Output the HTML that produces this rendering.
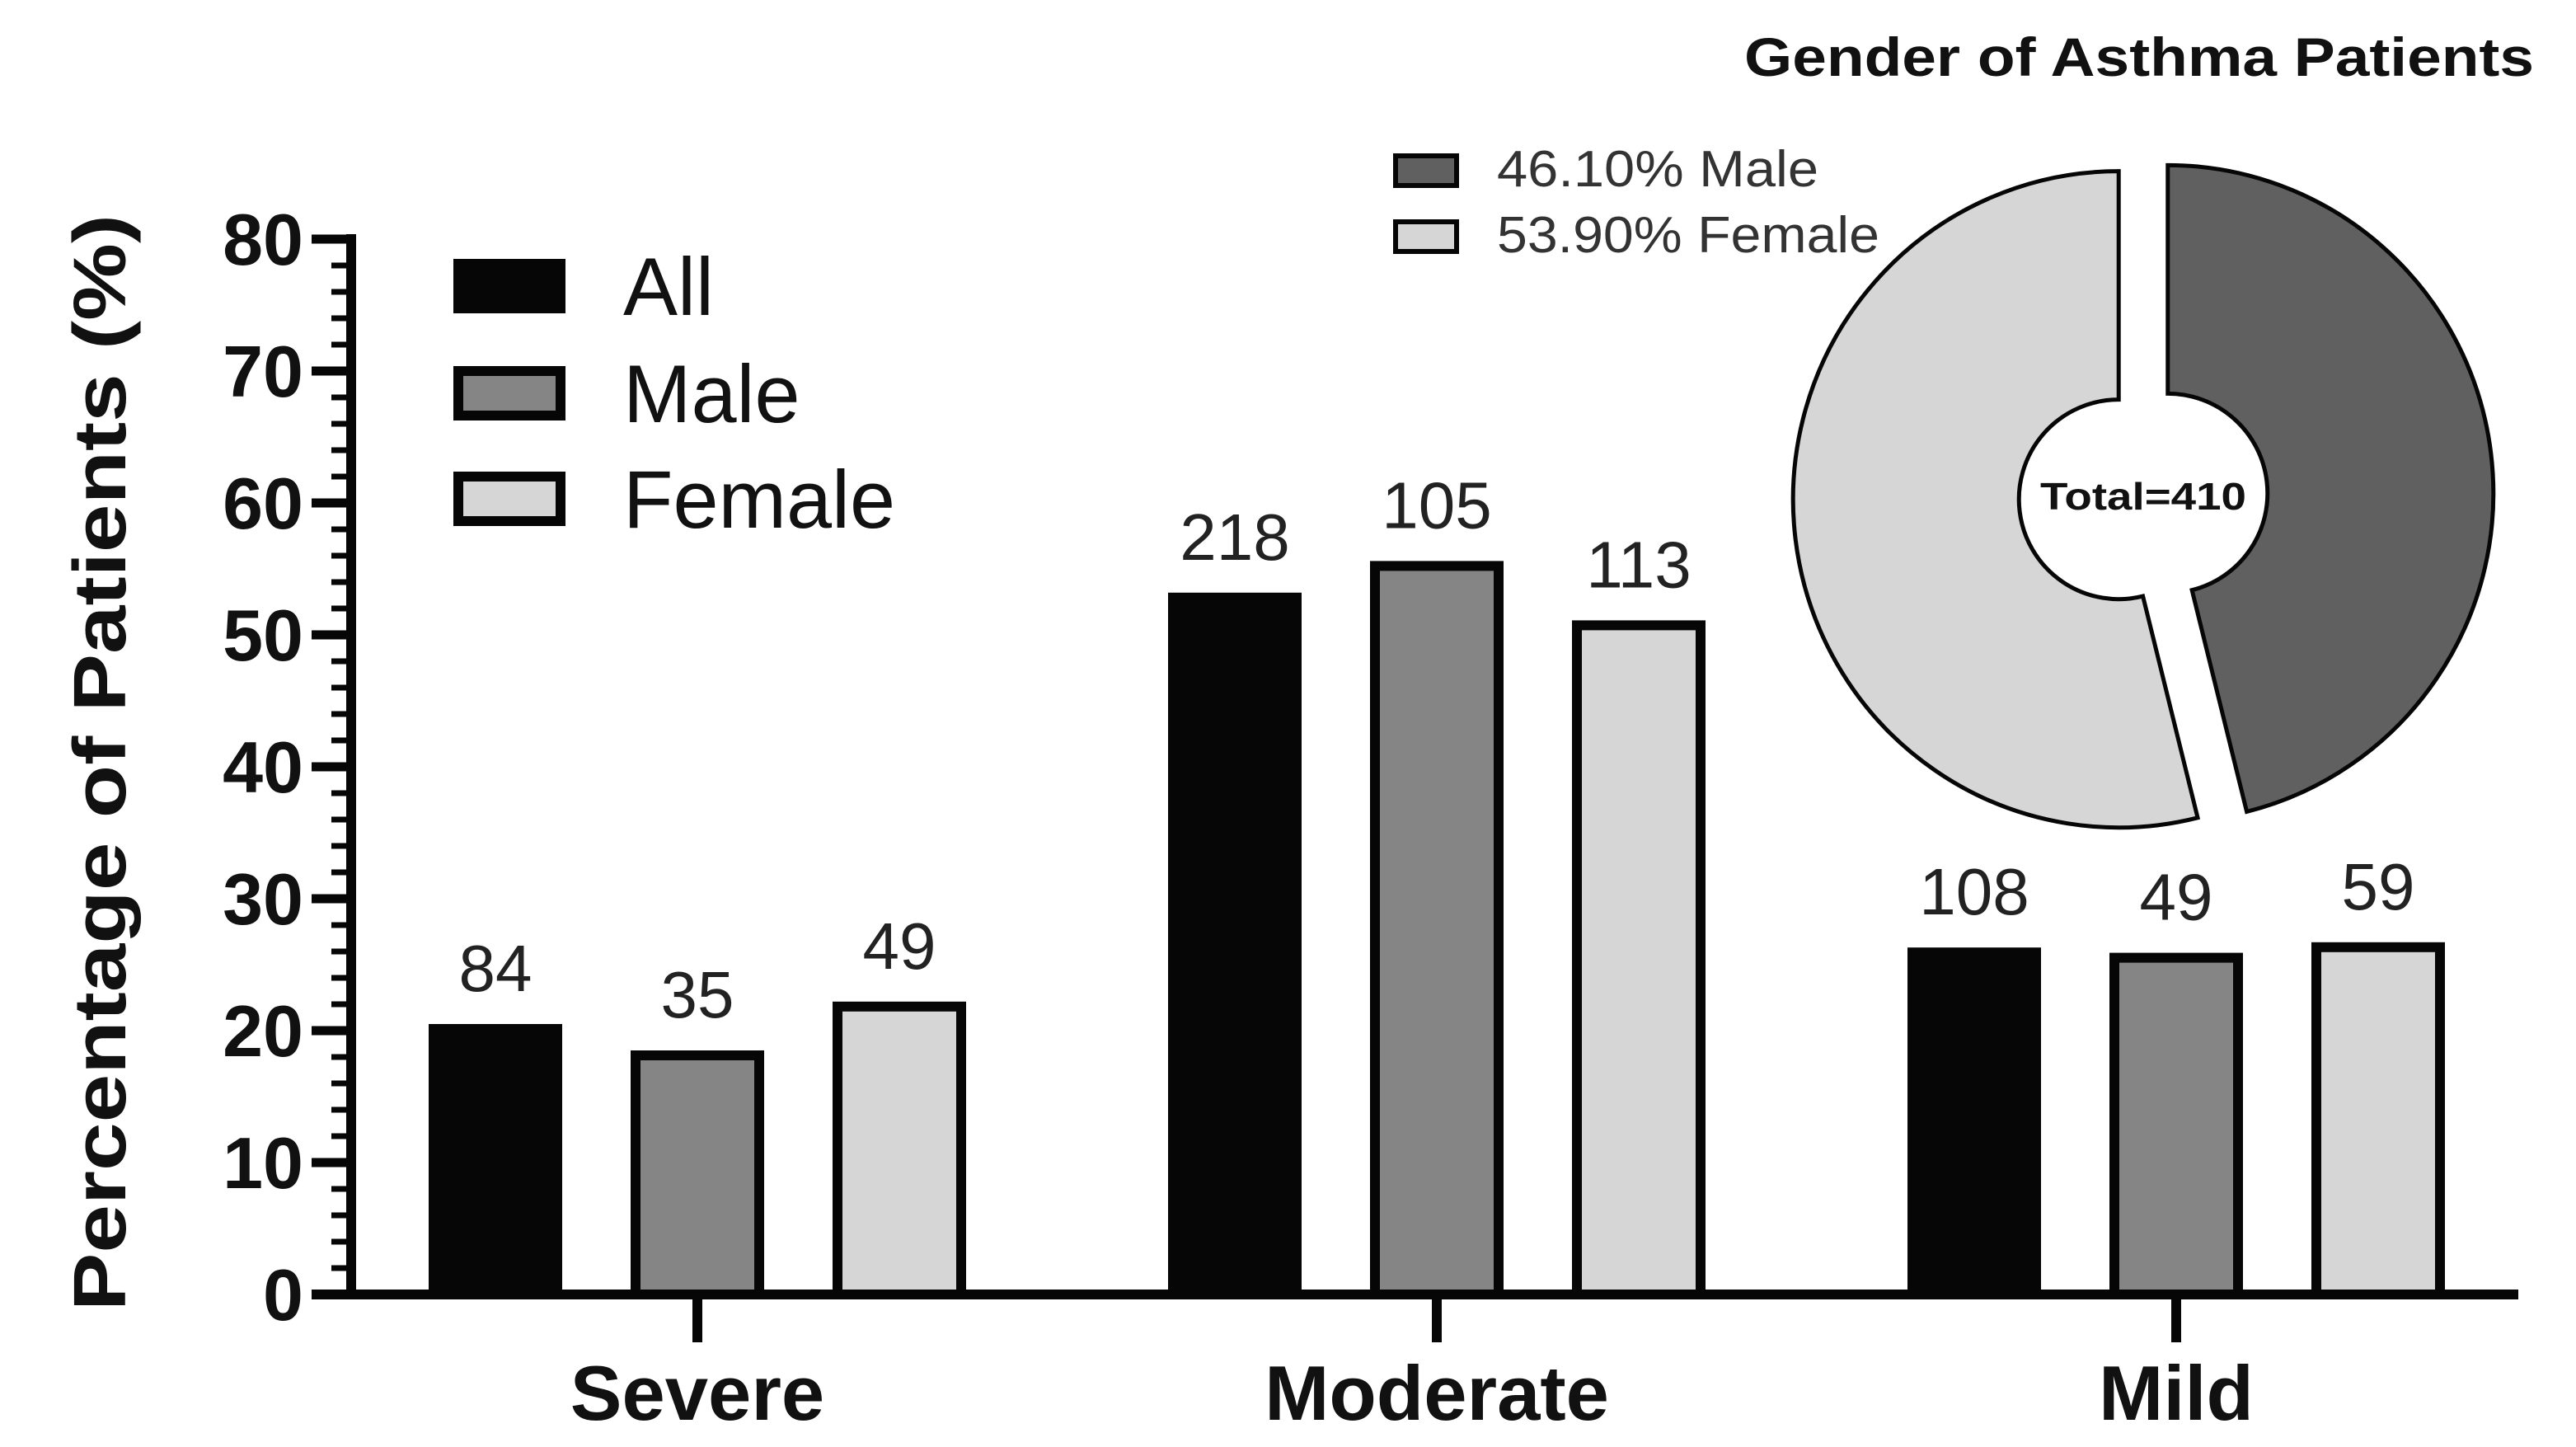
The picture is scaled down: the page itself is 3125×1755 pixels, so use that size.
<!DOCTYPE html>
<html><head><meta charset="utf-8">
<style>
html,body{margin:0;padding:0;background:#fff;}
svg{display:block;}
</style></head>
<body>
<svg id="chart" width="3125" height="1755" viewBox="0 0 3125 1755" xmlns="http://www.w3.org/2000/svg">
<g id="bars"></g>
<g id="axes"></g>
<g id="pie"></g>
</svg>
<script>
const categories = ["Severe", "Moderate", "Mild"];
const seriesNames = ["All", "Male", "Female"];
const allValues = [20.5, 53.2, 26.3];
const maleValues = [18.5, 55.6, 25.9];
const femaleValues = [22.2, 51.1, 26.7];
const allCounts = ["84", "218", "108"];
const maleCounts = ["35", "105", "49"];
const femaleCounts = ["49", "113", "59"];
const yTicks = [0, 10, 20, 30, 40, 50, 60, 70, 80];
const pieLabels = ["Male", "Female"];
const pieValues = [46.1, 53.9];
const pieText = ["46.10%  Male", "53.90%  Female"];
const pieTotal = "Total=410";

const NS = "http://www.w3.org/2000/svg";
function mk(tag, attrs, parent, text) {
  const e = document.createElementNS(NS, tag);
  for (const k in attrs) e.setAttribute(k, attrs[k]);
  if (text !== undefined) e.textContent = text;
  parent.appendChild(e);
  return e;
}
const y0 = 1570, yMax = 80, plotH = 1280;
function yScale(v) { return y0 - v / yMax * plotH; }
const groupCenters0 = 846, groupStep = 897;
function xGroup(i) { return groupCenters0 + i * groupStep; }
const barW = 162, barStep = 245;
function xBar(i, s) { return xGroup(i) + (s - 1) * barStep - barW / 2; }

const fills = ["#060606", "#858585", "#d5d6d5"];
const series = [allValues, maleValues, femaleValues];
const counts = [allCounts, maleCounts, femaleCounts];
const bars = document.getElementById("bars");
const axes = document.getElementById("axes");
const font = "'Liberation Sans', Arial, sans-serif";

// bars
for (let i = 0; i < categories.length; i++) {
  for (let s = 0; s < 3; s++) {
    const v = series[s][i];
    const x = xBar(i, s), yt = yScale(v);
    const r = mk("rect", {x: x + 6, y: yt + 6, width: barW - 12, height: y0 - yt - 6, fill: fills[s], stroke: "#060606", "stroke-width": 12}, bars);
    
    
    const t = mk("text", {x: x + barW / 2, y: yt - 40, "text-anchor": "middle", "font-family": font, "font-size": 80, fill: "#222"}, bars, counts[s][i]);
    
    
  }
}

// y axis
const ya = mk("line", {x1: 426, y1: 284, x2: 426, y2: 1576, stroke: "#060606", "stroke-width": 12}, axes);


for (let v = 0; v <= 80; v += 2) {
  const major = v % 10 === 0;
  const yy = yScale(v);
  const tk = mk("line", {x1: major ? 378 : 402, y1: yy, x2: 426, y2: yy, stroke: "#060606", "stroke-width": major ? 11 : 7}, axes);
  
  
}
yTicks.forEach(v => {
  const t = mk("text", {x: 368, y: yScale(v) + 31, "text-anchor": "end", "font-family": font, "font-weight": "bold", "font-size": 88, fill: "#111"}, axes, String(v));
  
  
});
const yt = mk("text", {x: 0, y: 0, transform: "translate(152,925) rotate(-90)", "text-anchor": "middle", "font-family": font, "font-weight": "bold", "font-size": 90, fill: "#111", "textLength": 1330, "lengthAdjust": "spacingAndGlyphs"}, axes, "Percentage of Patients (%)");



// x axis
const xa = mk("line", {x1: 378, y1: 1570, x2: 3055, y2: 1570, stroke: "#060606", "stroke-width": 12}, axes);


categories.forEach((c, i) => {
  const tk = mk("line", {x1: xGroup(i), y1: 1570, x2: xGroup(i), y2: 1628, stroke: "#060606", "stroke-width": 12}, axes);
  
  
  const t = mk("text", {x: xGroup(i), y: 1722, "text-anchor": "middle", "font-family": font, "font-weight": "bold", "font-size": 94, fill: "#111"}, axes, c);
  
  
});

// legend
const legY = [314, 444, 572];
seriesNames.forEach((n, s) => {
  const r = mk("rect", {x: 556, y: legY[s] + 6, width: 124, height: 54, fill: fills[s], stroke: "#060606", "stroke-width": 12}, axes);
  
  
  const t = mk("text", {x: 756, y: legY[s] + 68, "font-family": font, "font-size": 99, fill: "#111"}, axes, n);
  
  
});

// donut
const pie = document.getElementById("pie");
const cx = 2600, cy = 602, rx = 395, ry = 398, ri = 121;
const pieFills = ["#606060", "#d5d6d5"];
const total = pieValues.reduce((a, b) => a + b, 0);
let acc = 0;
function pt(a, rX, rY) { return [cx + rX * Math.sin(a), cy - rY * Math.cos(a)]; }
pieValues.forEach((v, k) => {
  const a0 = acc / total * 2 * Math.PI, a1 = (acc + v) / total * 2 * Math.PI;
  acc += v;
  const mid = (a0 + a1) / 2, off = 30;
  const dx = off * Math.sin(mid), dy = -off * Math.cos(mid);
  const p0 = pt(a0, rx, ry), p1 = pt(a1, rx, ry), q1 = pt(a1, ri, ri), q0 = pt(a0, ri, ri);
  const large = (a1 - a0) > Math.PI ? 1 : 0;
  const d = `M${p0[0]},${p0[1]} A${rx},${ry} 0 ${large} 1 ${p1[0]},${p1[1]} L${q1[0]},${q1[1]} A${ri},${ri} 0 ${large} 0 ${q0[0]},${q0[1]} Z`;
  const p = mk("path", {d: d, fill: pieFills[k], stroke: "#060606", "stroke-width": 5, transform: `translate(${dx},${dy})`}, pie);
  
  
});
const tt = mk("text", {x: cx, y: cy + 16, "text-anchor": "middle", "font-family": font, "font-weight": "bold", "font-size": 46, fill: "#111", "textLength": 250, "lengthAdjust": "spacingAndGlyphs"}, pie, pieTotal);


const ti = mk("text", {x: 3074, y: 92, "text-anchor": "end", "font-family": font, "font-weight": "bold", "font-size": 66, fill: "#111", "textLength": 958, "lengthAdjust": "spacingAndGlyphs"}, pie, "Gender of Asthma Patients");


const pLegY = [186, 266];
const pLegLen = [390, 464];
pieText.forEach((s, k) => {
  const r = mk("rect", {x: 1693, y: pLegY[k] + 3, width: 74, height: 36, fill: pieFills[k], stroke: "#060606", "stroke-width": 6}, pie);
  
  
  const t = mk("text", {x: 1816, y: pLegY[k] + 40, "font-family": font, "font-size": 62, fill: "#333", "textLength": pLegLen[k], "lengthAdjust": "spacingAndGlyphs"}, pie, s);
  
  
});
</script>
</body></html>
